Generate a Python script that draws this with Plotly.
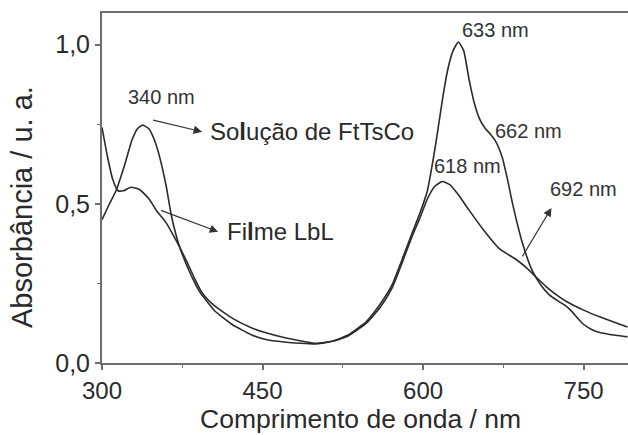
import plotly.graph_objects as go

# UV-Vis absorption spectra of FtTsCo: solution and LbL film
wl_solucao = [300, 307, 313, 321, 328, 333, 338, 344, 349, 354, 360, 365, 372, 380,
              387, 391, 405, 422, 440, 454, 470, 485, 500, 515, 530, 547, 560, 571,
              581, 590, 597, 604, 610, 614, 618, 623, 628, 633, 638, 643, 648, 653,
              658, 662, 668, 674, 679, 684, 693, 702, 710, 718, 726, 734, 739, 744,
              749, 757, 765, 780, 791]
abs_solucao = [0.45, 0.50, 0.54, 0.62, 0.70, 0.735, 0.747, 0.735, 0.70, 0.645, 0.555,
               0.46, 0.37, 0.30, 0.25, 0.225, 0.165, 0.12, 0.088, 0.073, 0.066, 0.062,
               0.060, 0.068, 0.088, 0.13, 0.185, 0.245, 0.33, 0.41, 0.47, 0.54, 0.65,
               0.735, 0.825, 0.92, 0.98, 1.008, 0.98, 0.89, 0.815, 0.765, 0.737, 0.722,
               0.695, 0.645, 0.575, 0.495, 0.375, 0.29, 0.245, 0.214, 0.195, 0.178,
               0.162, 0.142, 0.124, 0.106, 0.096, 0.087, 0.082]

wl_filme = [300, 305, 310, 315, 320, 327, 335, 344, 351, 360, 370, 379, 387, 394,
            405, 422, 440, 454, 470, 485, 500, 515, 530, 547, 560, 571, 581, 590,
            597, 604, 611, 618, 625, 633, 643, 656, 671, 687, 697, 704, 715, 725,
            734, 750, 765, 780, 791]
abs_filme = [0.74, 0.65, 0.577, 0.541, 0.541, 0.552, 0.545, 0.515, 0.478, 0.44, 0.38,
             0.32, 0.262, 0.218, 0.18, 0.14, 0.11, 0.094, 0.080, 0.070, 0.062, 0.068,
             0.085, 0.125, 0.175, 0.235, 0.32, 0.40, 0.455, 0.515, 0.555, 0.57, 0.56,
             0.528, 0.48, 0.42, 0.36, 0.325, 0.298, 0.275, 0.24, 0.213, 0.193, 0.166,
             0.145, 0.126, 0.113]

x_ticks = [300, 450, 600, 750]
x_ticktext = ["300", "450", "600", "750"]
y_ticks = [0.0, 0.5, 1.0]
y_ticktext = ["0,0", "0,5", "1,0"]

# peak labels: (text, wavelength, absorbance)
rotulos = [("340 nm", 356, 0.835), ("633 nm", 668, 1.047), ("662 nm", 698.6, 0.73),
           ("618 nm", 641.6, 0.62), ("692 nm", 750, 0.547)]

LINE = "#2b2b2b"
AXIS = "#6e6e6e"
TXT = "#2a2a2a"
FONT = "Liberation Sans, Arial, sans-serif"

fig = go.Figure()
fig.add_trace(go.Scatter(x=wl_solucao, y=abs_solucao, mode="lines",
                         line=dict(color=LINE, width=1.6, shape="spline", smoothing=0.5),
                         name="Solução de FtTsCo"))
fig.add_trace(go.Scatter(x=wl_filme, y=abs_filme, mode="lines",
                         line=dict(color=LINE, width=1.6, shape="spline", smoothing=0.5),
                         name="Filme LbL"))

annotations = []
for txt, xv, yv in rotulos:
    annotations.append(dict(x=xv, y=yv, xref="x", yref="y", text=txt, showarrow=False,
                            font=dict(size=20, color="#333333", family=FONT)))

# series labels with arrows
annotations.append(dict(x=398.6, y=0.726, xref="x", yref="y",
                        text="So<b>l</b>ução de FtTsCo",
                        showarrow=False, xanchor="left",
                        font=dict(size=24, color=TXT, family=FONT)))
annotations.append(dict(x=414.5, y=0.412, xref="x", yref="y", text="Fi<b>l</b>me LbL",
                        showarrow=False, xanchor="left",
                        font=dict(size=24, color=TXT, family=FONT)))
arrows = [((346.4, 0.764), (393.5, 0.726)),
          ((353.7, 0.481), (408.5, 0.412)),
          ((692.0, 0.330), (720.0, 0.487))]
for (tx, ty), (hx, hy) in arrows:
    annotations.append(dict(x=hx, y=hy, ax=tx, ay=ty, xref="x", yref="y",
                            axref="x", ayref="y", text="", showarrow=True,
                            arrowhead=2, arrowsize=1.4, arrowwidth=1.2,
                            arrowcolor="#333333"))

# axis titles
annotations.append(dict(x=22, y=435 - 207, xref="paper", yref="paper",
                        text="Absorbância / u. a.", showarrow=False, textangle=-90,
                        font=dict(size=29, color=TXT, family=FONT)))
annotations.append(dict(x=360, y=435 - 419, xref="paper", yref="paper",
                        text="Comprimento de onda / nm", showarrow=False,
                        font=dict(size=26.5, color=TXT, family=FONT)))

W, H = 628, 435
ML, MR, MT, MB = 102, 0, 13, 72
# convert pixel positions of the axis titles into paper fractions
for a in annotations[-2:]:
    a["x"] = (a["x"] - ML) / (W - ML - MR)
    a["y"] = (a["y"] - MB) / (H - MT - MB)
    a["xanchor"] = "center"
    a["yanchor"] = "middle"

fig.update_layout(
    width=W, height=H,
    margin=dict(l=ML, r=MR, t=MT, b=MB),
    paper_bgcolor="white", plot_bgcolor="white",
    showlegend=False,
    font=dict(family=FONT, color=TXT),
    annotations=annotations,
)
fig.update_xaxes(
    range=[300, 791.5], showgrid=False, zeroline=False,
    showline=True, linecolor=AXIS, linewidth=2, mirror=True,
    tickmode="array", tickvals=x_ticks, ticktext=x_ticktext,
    ticks="outside", ticklen=5, tickwidth=1.5, tickcolor=AXIS,
    tickfont=dict(size=24, family=FONT, color=TXT),
    minor=dict(tickvals=[375, 525, 675], ticks="outside", ticklen=3,
               tickwidth=1.2, tickcolor=AXIS),
)
fig.update_yaxes(
    range=[0, 1.099], showgrid=False, zeroline=False,
    showline=True, linecolor=AXIS, linewidth=2, mirror=False,
    tickmode="array", tickvals=y_ticks, ticktext=y_ticktext,
    ticks="outside", ticklen=5, tickwidth=1.5, tickcolor=AXIS,
    tickfont=dict(size=25, family=FONT, color=TXT),
    minor=dict(tickvals=[0.25, 0.75], ticks="outside", ticklen=3,
               tickwidth=1.2, tickcolor=AXIS),
)

fig.write_html("out.html")
